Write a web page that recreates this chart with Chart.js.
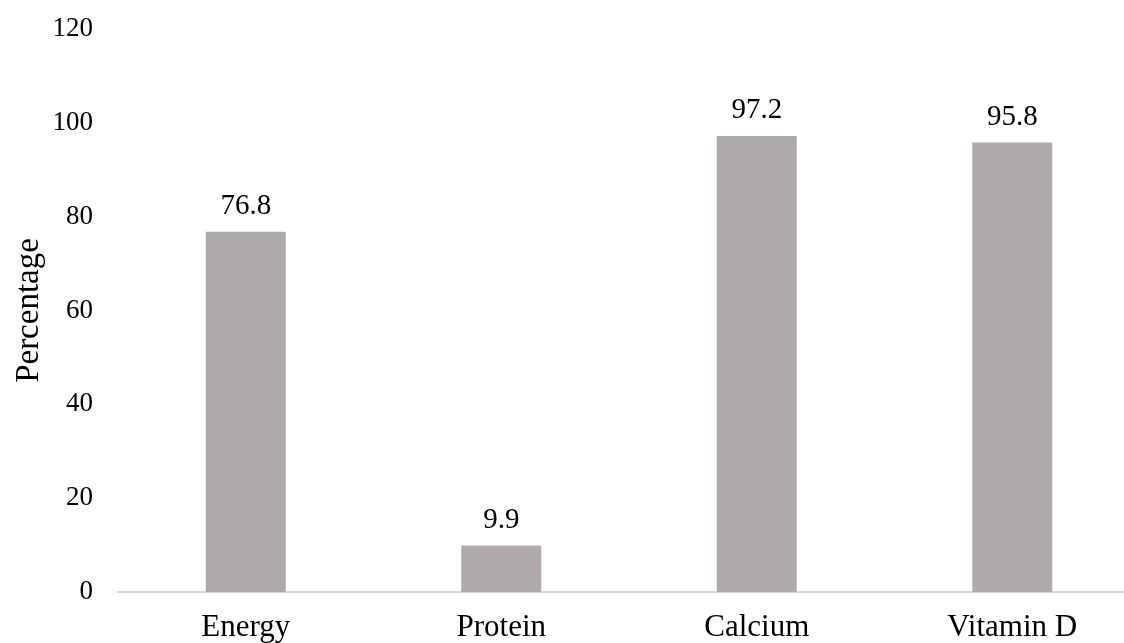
<!DOCTYPE html>
<html>
<head>
<meta charset="utf-8">
<script src="https://cdn.jsdelivr.net/npm/chart.js@4/dist/chart.umd.min.js"></script>
<style>
  html, body { margin: 0; padding: 0; background: #fff; overflow: hidden; }
  #wrap { width: 1124px; height: 643px; overflow: hidden; }
  #box { position: relative; width: 1142px; height: 650px; }
</style>
</head>
<body>
<div id="wrap"><div id="box"><canvas id="nutrientChart"></canvas></div></div>
<script>
// data
const categories = ["Energy", "Protein", "Calcium", "Vitamin D"];
const percentValues = [76.8, 9.9, 97.2, 95.8];
const yTicks = [0, 20, 40, 60, 80, 100, 120];

const serif = "'Liberation Serif', 'Times New Roman', serif";

// value labels above bars
const barLabels = {
  id: "barLabels",
  afterDatasetsDraw(chart) {
    const ctx = chart.ctx;
    const meta = chart.getDatasetMeta(0);
    ctx.save();
    ctx.font = "29px " + serif;
    ctx.fillStyle = "#000";
    ctx.textAlign = "center";
    ctx.textBaseline = "alphabetic";
    meta.data.forEach((bar, i) => {
      ctx.fillText(percentValues[i].toFixed(1), bar.x, bar.y - 18);
    });
    ctx.restore();
  }
};

const ctx = document.getElementById("nutrientChart").getContext("2d");
new Chart(ctx, {
  type: "bar",
  data: {
    labels: categories,
    datasets: [{
      data: percentValues,
      backgroundColor: "#AEAAAA",
      barPercentage: 0.313,
      categoryPercentage: 1
    }]
  },
  options: {
    responsive: true,
    maintainAspectRatio: false,
    animation: false,
    layout: { padding: { left: 0, right: 2, top: 29, bottom: 4 } },
    plugins: {
      legend: { display: false },
      tooltip: { enabled: false }
    },
    scales: {
      x: {
        afterFit: (s) => { s.height = 54; },
        grid: { display: false, drawTicks: false },
        border: { display: true, color: "#D9D9D9", width: 2 },
        ticks: { color: "#000", font: { family: serif, size: 31 }, padding: 17 }
      },
      y: {
        min: 0,
        max: 120,
        afterFit: (s) => { s.width = 118; s.paddingTop = 0; s.paddingBottom = 0; },
        afterBuildTicks: (axis) => { axis.ticks = yTicks.map(v => ({ value: v })); },
        grid: { display: false, drawTicks: false },
        border: { display: false },
        ticks: { color: "#000", font: { family: serif, size: 27 }, padding: 25 },
        title: {
          display: true,
          text: "Percentage",
          color: "#000",
          font: { family: serif, size: 33 },
          padding: { top: 10, bottom: 5 }
        }
      }
    }
  },
  plugins: [barLabels]
});
</script>
</body>
</html>
